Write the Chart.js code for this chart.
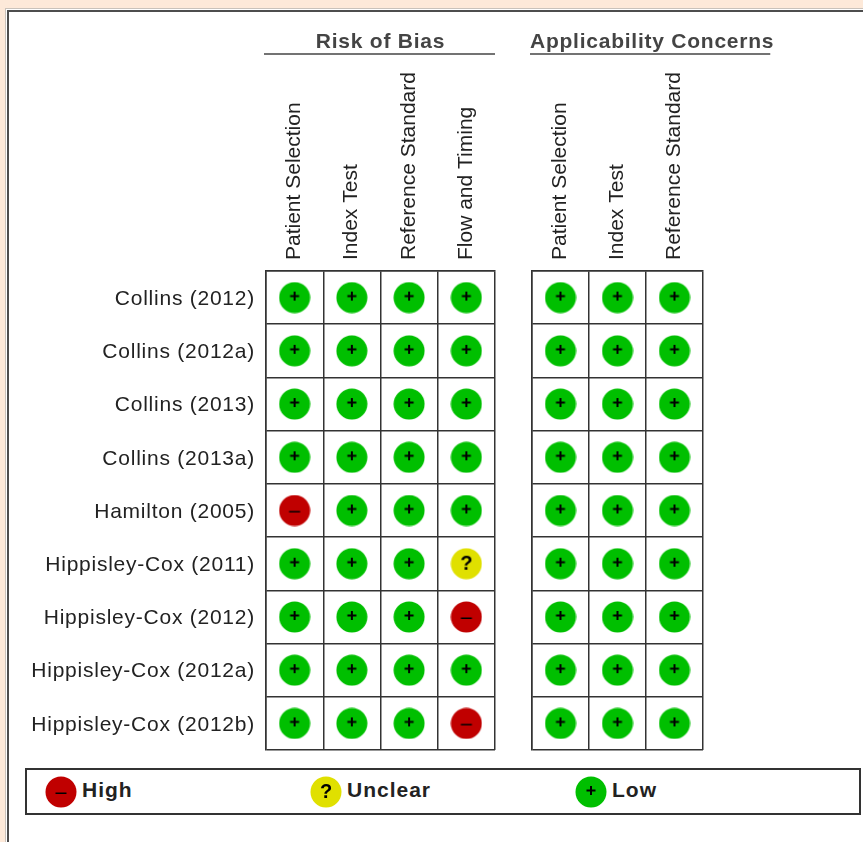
<!DOCTYPE html>
<html>
<head>
<meta charset="utf-8">
<script src="https://cdn.jsdelivr.net/npm/chart.js@4/dist/chart.umd.min.js"></script>
<style>
  html, body { margin: 0; height: 100%; overflow: hidden; background: #fde9d9; }
  #frame { position: absolute; left: 5px; top: 8px; width: 900px; height: 900px; border: 1px solid #c9c2bb; background: #fff; }
  #inner { position: absolute; left: 1px; top: 1px; width: 900px; height: 900px; border: 2px solid #4d4d4d; }
  canvas.panel { position: absolute; top: 0; }
  #riskChart { left: 0; }
  #applicabilityChart { left: 500px; }
  #legend { position: absolute; left: 25px; top: 768px; width: 832px; height: 43px; border: 2px solid #333; background: #fff;
    font: bold 21px "Liberation Sans", Arial, sans-serif; letter-spacing: 1px; color: #222; }
  .item { position: absolute; top: 6px; height: 32px; display: flex; align-items: center; gap: 5px; }
  .item span { position: relative; top: -2px; }
</style>
</head>
<body>
<div id="frame"><div id="inner"></div></div>
<canvas class="panel" id="riskChart" width="512" height="780"></canvas>
<canvas class="panel" id="applicabilityChart" width="300" height="780"></canvas>
<div id="legend"></div>
<script>
const studies = ["Collins (2012)", "Collins (2012a)", "Collins (2013)", "Collins (2013a)", "Hamilton (2005)",
  "Hippisley-Cox (2011)", "Hippisley-Cox (2012)", "Hippisley-Cox (2012a)", "Hippisley-Cox (2012b)"];

const riskDomains = ["Patient Selection", "Index Test", "Reference Standard", "Flow and Timing"];
const applicabilityDomains = ["Patient Selection", "Index Test", "Reference Standard"];

const L = "Low", H = "High", U = "Unclear";
// one list per column, top row first
const riskPatient = [L, L, L, L, H, L, L, L, L];
const riskIndex = [L, L, L, L, L, L, L, L, L];
const riskReference = [L, L, L, L, L, L, L, L, L];
const riskFlow = [L, L, L, L, L, U, H, L, H];
const appPatient = [L, L, L, L, L, L, L, L, L];
const appIndex = [L, L, L, L, L, L, L, L, L];
const appReference = [L, L, L, L, L, L, L, L, L];

const legendLevels = [H, U, L];

const levelColors = { High: "#c00000", Unclear: "#e0e000", Low: "#00bf00" };
const FONT = '"Liberation Sans", Arial, sans-serif';

function makeMarker(level) {
  const c = document.createElement("canvas");
  c.width = 32;
  c.height = 32;
  const g = c.getContext("2d");
  g.fillStyle = levelColors[level];
  g.beginPath();
  g.arc(16, 16, 15.5, 0, Math.PI * 2);
  g.fill();
  g.fillStyle = "#000";
  if (level === "Low") {
    g.fillRect(11.5, 13.5, 9, 2);
    g.fillRect(15, 10, 2, 9);
  } else if (level === "High") {
    g.fillRect(10.5, 16.5, 11, 1.5);
  } else {
    g.font = "bold 20px " + FONT;
    g.textAlign = "center";
    g.textBaseline = "middle";
    g.fillText("?", 16, 16);
  }
  return c;
}

const markers = { High: makeMarker(H), Unclear: makeMarker(U), Low: makeMarker(L) };

// group title and its underline. The axis title would squeeze a long text into the grid width
const groupHeader = {
  id: "groupHeader",
  beforeDraw(chart) {
    const x = chart.scales.x;
    chart.ctx.letterSpacing = "0.76px";
    // rotated labels go without the extra spacing
    if (!x.spacingPatched) {
      const drawLabels = x.drawLabels;
      x.drawLabels = function (area) {
        chart.ctx.letterSpacing = "0px";
        drawLabels.call(this, area);
        chart.ctx.letterSpacing = "0.76px";
      };
      x.spacingPatched = true;
    }
  },
  afterDraw(chart, args, opts) {
    const x = chart.scales.x;
    const ctx = chart.ctx;
    ctx.save();
    ctx.font = "bold 21px " + FONT;
    ctx.fillStyle = "#444";
    ctx.textBaseline = "middle";
    const w = ctx.measureText(opts.text).width;
    const fits = w < x.width;
    const start = fits ? (x.left + x.right - w) / 2 : x.left - 2;
    ctx.fillText(opts.text, start, 42);
    ctx.strokeStyle = "#444";
    ctx.lineWidth = 1.5;
    ctx.beginPath();
    ctx.moveTo(x.left - 2, 54);
    ctx.lineTo(fits ? x.right : start + w - 4, 54);
    ctx.stroke();
    ctx.restore();
  }
};

function buildChart(id, title, domains, columns, showStudies, padding) {
  const points = [];
  domains.forEach((domain, i) => {
    columns[i].forEach((level, r) => points.push({ x: domain, y: studies[r], level: level }));
  });
  return new Chart(document.getElementById(id), {
    type: "scatter",
    data: {
      datasets: [{
        label: title,
        data: points,
        pointStyle: ctx => markers[ctx.raw.level],
        pointRadius: 16,
        clip: false
      }]
    },
    options: {
      responsive: false,
      animation: false,
      layout: { padding: padding },
      plugins: { legend: { display: false }, tooltip: { enabled: false }, groupHeader: { text: title } },
      scales: {
        x: {
          type: "category",
          labels: domains,
          position: "top",
          offset: true,
          grid: { offset: true, color: "#333", lineWidth: 1.5, drawTicks: false },
          border: { color: "#333", width: 1.5 },
          ticks: { color: "#222", font: { family: FONT, size: 21 }, minRotation: 90, maxRotation: 90, padding: 11, labelOffset: 25, autoSkip: false },
          afterFit: scale => { scale.height = 271; }
        },
        y: {
          type: "category",
          labels: studies,
          offset: true,
          grid: { offset: true, color: "#333", lineWidth: 1.5, drawTicks: false },
          border: { color: "#333", width: 1.5 },
          ticks: { display: showStudies, color: "#222", font: { family: FONT, size: 21 }, padding: 11, labelOffset: 1.5, autoSkip: false },
          afterFit: scale => { scale.width = showStudies ? 266 : 0; }
        }
      }
    },
    plugins: [groupHeader]
  });
}

buildChart("riskChart", "Risk of Bias", riskDomains,
  [riskPatient, riskIndex, riskReference, riskFlow], true, { left: 0, right: 17, top: 0, bottom: 30 });
buildChart("applicabilityChart", "Applicability Concerns", applicabilityDomains,
  [appPatient, appIndex, appReference], false, { left: 32, right: 97, top: 0, bottom: 30 });

// legend row, same markers as the table
const legendBox = document.getElementById("legend");
const legendStarts = { High: 18, Unclear: 283, Low: 548 };
legendLevels.forEach(level => {
  const item = document.createElement("div");
  item.className = "item";
  item.style.left = legendStarts[level] + "px";
  item.appendChild(makeMarker(level));
  const label = document.createElement("span");
  label.textContent = level;
  item.appendChild(label);
  legendBox.appendChild(item);
});
</script>
</body>
</html>
